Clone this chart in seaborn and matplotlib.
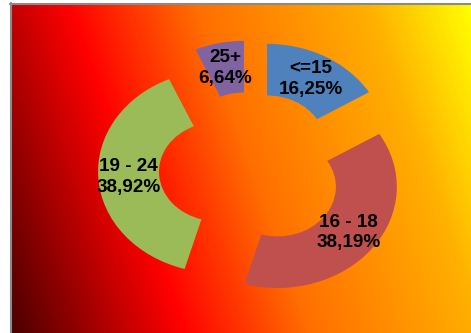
import numpy as np
import matplotlib
matplotlib.use("Agg")
import matplotlib.pyplot as plt
from matplotlib.colors import LinearSegmentedColormap
from matplotlib.lines import Line2D
import seaborn as sns

categories = ["<=15", "16 - 18", "19 - 24", "25+"]
shares = [16.25, 38.19, 38.92, 6.64]
pct_labels = ["16,25%", "38,19%", "38,92%", "6,64%"]
slice_colors = ["#4F81BD", "#C0504D", "#9BBB59", "#8064A2"]

sns.set_theme(style="white")
plt.rcParams["font.family"] = ["Liberation Sans", "DejaVu Sans"]

W, H = 471, 333
fig = plt.figure(figsize=(W / 100, H / 100), dpi=100)
fig.patch.set_facecolor("white")

# gradient background
bx0, by0 = 10, 3
bg = fig.add_axes([bx0 / W, 0, (W - bx0) / W, (H - by0) / H])
bg.set_axis_off()
xs = np.arange(bx0, W) + 0.5
ys = np.arange(by0, H) + 0.5
X, Y = np.meshgrid(xs, ys)
t = 315 * X - 110 * Y
tmin = 315 * bx0 - 110 * H
tmax = 315 * W - 110 * by0
t = (t - tmin) / (tmax - tmin)
cmap = LinearSegmentedColormap.from_list(
    "fire",
    [(0, "#4a0000"), (0.3, "#ff0000"), (0.52, "#ff6e00"), (0.82, "#ffb000"), (1, "#ffff00")],
)
bg.imshow(t, cmap=cmap, vmin=0, vmax=1, aspect="auto", interpolation="bilinear")

fig.add_artist(Line2D([(bx0 + 0.5) / W] * 2, [0, (H - by0 + 0.5) / H],
                      transform=fig.transFigure, color="#8a8a8a", lw=1.5))
fig.add_artist(Line2D([bx0 / W, 1], [(H - by0 - 0.5) / H] * 2,
                      transform=fig.transFigure, color="#8a8a8a", lw=1.5))

# donut
ax = fig.add_axes([131.3 / W, (H - 270.9) / H, 239 / W, 202.4 / H])
labels = [f"{c}\n{p}" for c, p in zip(categories, pct_labels)]
wedges, texts = ax.pie(
    shares,
    labels=labels,
    colors=sns.color_palette(slice_colors),
    startangle=90,
    counterclock=False,
    explode=[0.279] * len(shares),
    labeldistance=0.745,
    wedgeprops=dict(width=0.51, linewidth=0),
    textprops=dict(ha="center", va="center", fontsize=13.6, fontweight="bold",
                   color="black", linespacing=1.28),
)
for w in wedges:
    w.set_clip_on(False)
ax.set_aspect("auto")
ax.set_xlim(-1, 1)
ax.set_ylim(-1, 1)
ax.set_axis_off()

fig.savefig("out.png", dpi=100)
